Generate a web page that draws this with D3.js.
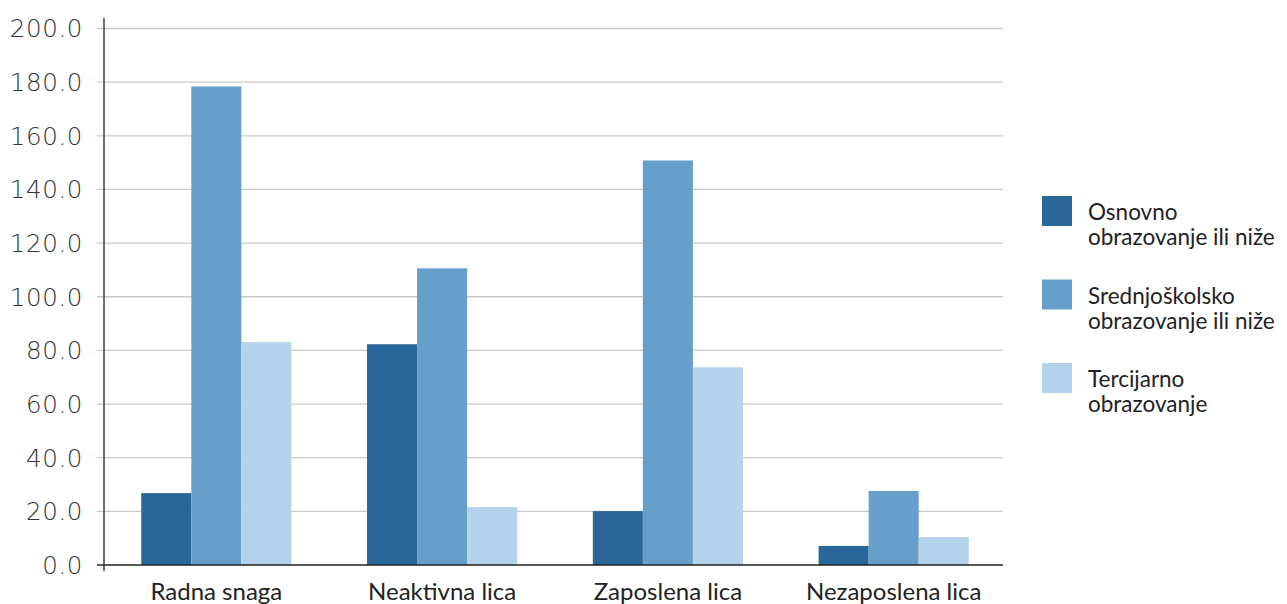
<!DOCTYPE html>
<html>
<head>
<meta charset="utf-8">
<script src="https://cdn.jsdelivr.net/npm/d3@7"></script>
<style>
  html, body { margin: 0; padding: 0; background: #fff; }
  svg { display: block; }
</style>
</head>
<body>
<svg id="chart" width="1287" height="604"></svg>
<script>
// Categories and series (values in thousands)
const categories = ["Radna snaga", "Neaktivna lica", "Zaposlena lica", "Nezaposlena lica"];
const seriesNames = [
  ["Osnovno", "obrazovanje ili niže"],
  ["Srednjoškolsko", "obrazovanje ili niže"],
  ["Tercijarno", "obrazovanje"]
];
const osnovno = [26.8, 82.3, 20.1, 7.1];
const srednje = [178.4, 110.6, 150.8, 27.6];
const tercijarno = [83.1, 21.6, 73.7, 10.4];
const yTicks = [0, 20, 40, 60, 80, 100, 120, 140, 160, 180, 200];

const colors = ["#2a6699", "#679fcb", "#b5d2ec"];
const series = [osnovno, srednje, tercijarno];

const svg = d3.select("#chart");
const plotLeft = 104, plotRight = 1006, plotTop = 28.5, plotBottom = 565;

const x = d3.scaleBand().domain(categories).range([plotLeft, plotRight]).paddingInner(0.335).paddingOuter(0.165);
const xs = d3.scaleBand().domain(d3.range(series.length)).range([0, x.bandwidth()]);
const y = d3.scaleLinear().domain([0, 200]).range([plotBottom, plotTop]);

// Gridlines
svg.append("g")
  .selectAll("line")
  .data(yTicks.filter(d => d > 0))
  .join("line")
  .attr("x1", 97).attr("x2", 1003)
  .attr("y1", d => y(d)).attr("y2", d => y(d))
  .attr("stroke", "#c9c9c9").attr("stroke-width", 1.3);

// Y axis labels
const yAxis = d3.axisLeft(y).tickValues(yTicks).tickFormat(d3.format(".1f")).tickSize(0).tickPadding(21);
const gy = svg.append("g").attr("transform", `translate(${plotLeft},0)`).call(yAxis);
gy.select(".domain").remove();
gy.selectAll("text")
  .attr("font-family", "'DejaVu Sans', sans-serif")
  .attr("font-size", 24.5)
  .attr("font-weight", 200)
  .attr("letter-spacing", 0.6)
  .attr("fill", "#333")
  .attr("dy", "0.34em");

// Bars
const groups = svg.append("g").selectAll("g")
  .data(categories)
  .join("g")
  .attr("transform", d => `translate(${x(d)},0)`);

groups.selectAll("rect")
  .data((c, i) => series.map((s, k) => ({ k, v: s[i] })))
  .join("rect")
  .attr("x", d => xs(d.k))
  .attr("width", xs.bandwidth())
  .attr("y", d => y(d.v))
  .attr("height", d => y(0) - y(d.v))
  .attr("fill", d => colors[d.k]);

// Axis lines
svg.append("line").attr("x1", plotLeft).attr("x2", plotLeft).attr("y1", 18).attr("y2", 571)
  .attr("stroke", "#222").attr("stroke-width", 1.3);
svg.append("line").attr("x1", 97).attr("x2", 1003).attr("y1", plotBottom).attr("y2", plotBottom)
  .attr("stroke", "#222").attr("stroke-width", 1.3);

// X labels
const xAxis = d3.axisBottom(x).tickSize(0).tickPadding(18);
const gx = svg.append("g").attr("transform", `translate(0,${plotBottom})`).call(xAxis);
gx.select(".domain").remove();
gx.selectAll("text")
  .attr("font-family", "Lato, 'Open Sans', sans-serif")
  .attr("font-size", 24)
  .attr("fill", "#222");

// Legend: swatch plus a two-line label
const legend = svg.append("g").selectAll("g")
  .data(seriesNames)
  .join("g")
  .attr("transform", (d, i) => `translate(1042,${196 + i * 83.5})`);
legend.append("rect").attr("width", 30).attr("height", 30).attr("fill", (d, i) => colors[i]);
legend.selectAll("text")
  .data(d => d)
  .join("text")
  .attr("font-family", "Lato, 'Open Sans', sans-serif")
  .attr("font-size", 22.5)
  .attr("fill", "#222")
  .attr("x", 46)
  .attr("y", (d, j) => 24 + j * 25)
  .text(d => d);
</script>
</body>
</html>
